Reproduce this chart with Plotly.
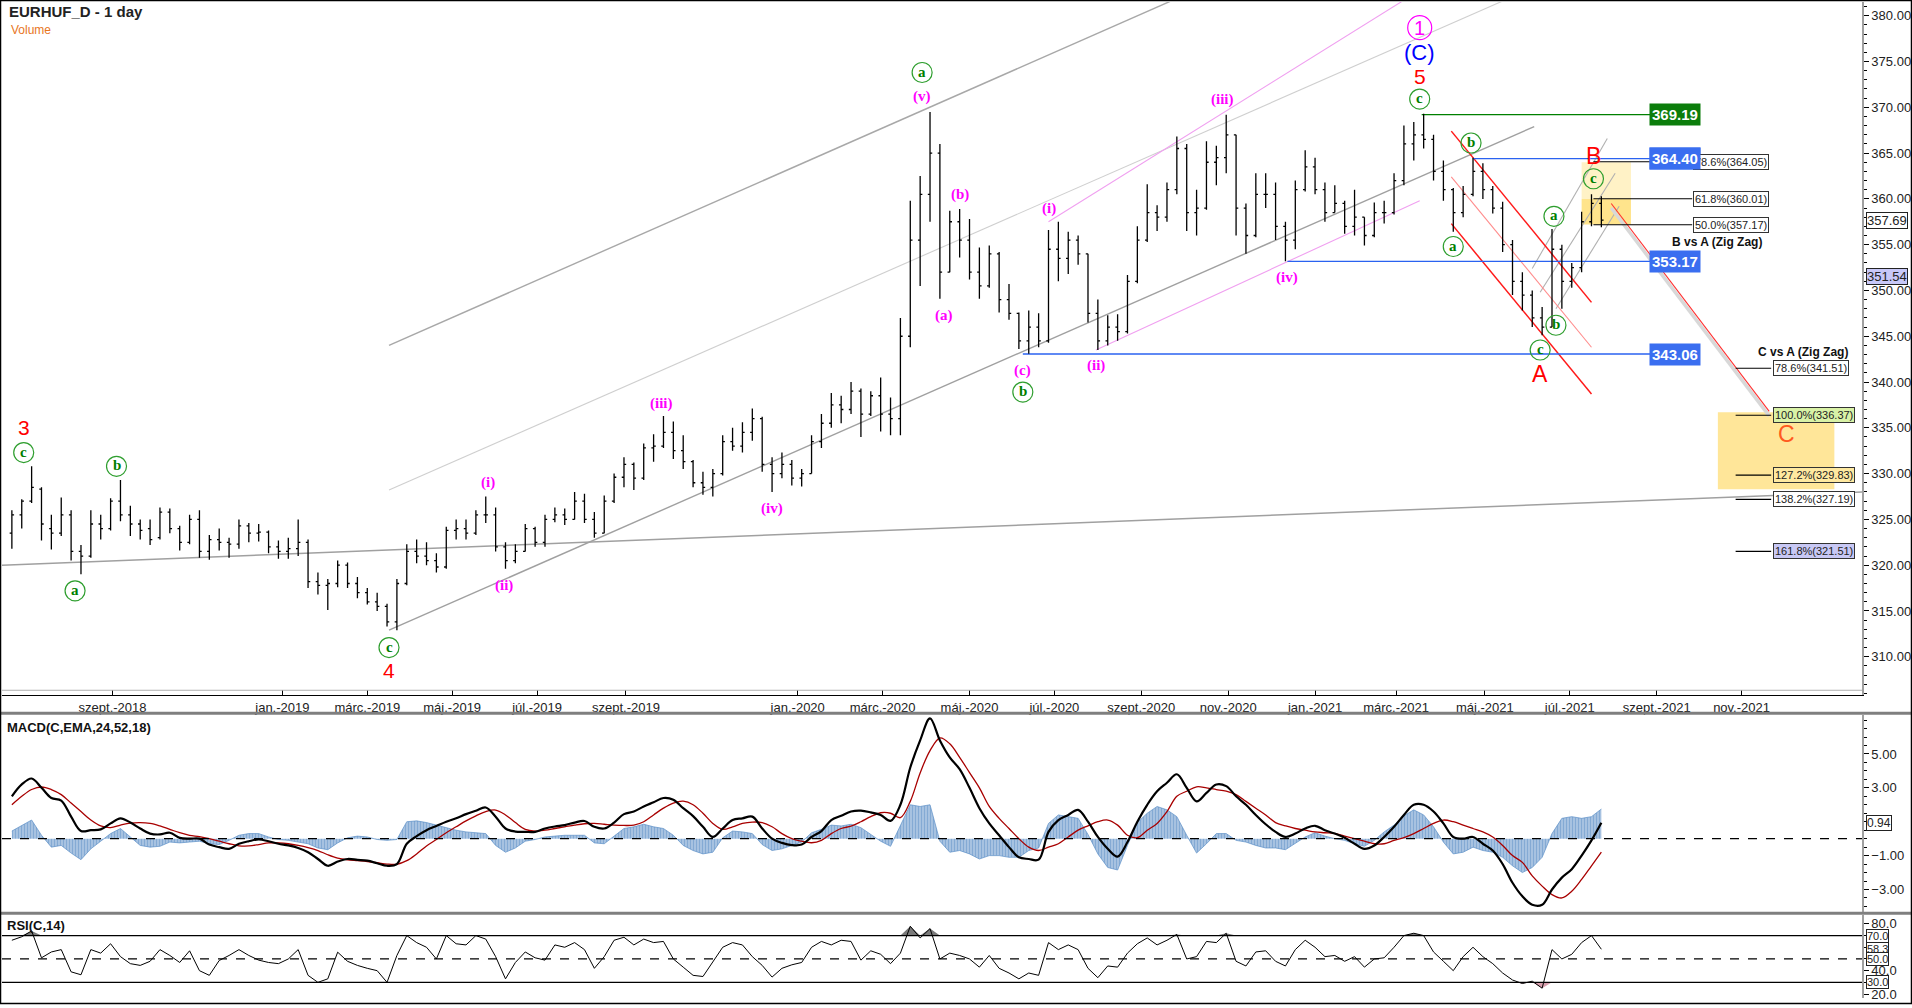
import numpy as np
import pandas as pd
import plotly.graph_objects as go

# weekly bars
weeks = pd.date_range("2018-06-22", "2021-07-23", freq="W-FRI")

bar_open = [
    323.5, 325.5, 327.0, 328.3, 324.0, 323.5, 325.5, 321.5, 321.0, 324.5,
    324.0, 327.0, 325.5, 324.5, 324.0, 323.0, 325.8, 324.0, 322.5, 325.0,
    321.5, 322.8, 322.5, 322.3, 324.3, 323.5, 323.6, 322.0, 321.5, 321.8,
    322.5, 318.2, 317.8, 318.0, 320.0, 318.0, 317.0, 316.0, 315.5, 313.8,
    318.0, 321.5, 321.0, 320.5, 319.8, 323.8, 324.0, 323.5, 325.5, 325.5,
    322.0, 320.5, 321.5, 324.0, 322.5, 325.0, 325.5, 325.0, 327.0, 325.0,
    323.5, 327.0, 329.6, 331.0, 329.5, 332.8, 333.0, 334.5, 332.5, 331.3,
    329.0, 328.5, 330.0, 333.5, 333.0, 334.5, 336.0, 331.0, 330.0, 331.0,
    329.5, 330.0, 333.5, 335.5, 337.5, 337.0, 339.0, 336.5, 338.5, 336.5,
    336.0, 345.0, 355.5, 360.5, 365.0, 352.0, 357.5, 355.5, 352.0, 350.5,
    354.0, 349.0, 347.5, 344.5, 346.0, 344.5, 354.5, 353.5, 355.5, 354.0,
    347.5, 344.5, 346.0, 345.5, 351.0, 355.5, 358.5, 358.0, 361.0, 365.5,
    358.5, 359.0, 364.0, 364.5, 367.0, 359.0, 356.0, 360.5, 360.5, 357.0,
    355.5, 361.0, 363.5, 361.0, 358.5, 359.5, 357.0, 358.0, 356.0, 358.5,
    358.5, 362.0, 366.0, 367.0, 366.5, 363.0, 361.0, 358.5, 360.5, 363.0,
    361.0, 359.0, 355.0, 351.0, 349.5, 347.0, 346.0, 354.5, 351.0, 352.5,
    357.5, 359.5,
]
bar_high = [
    326.0, 327.2, 330.8, 328.5, 325.5, 327.4, 326.0, 322.2, 326.0, 325.5,
    327.3, 329.3, 326.5, 325.0, 325.0, 326.3, 326.2, 324.3, 325.5, 326.0,
    323.3, 324.0, 323.0, 325.0, 324.6, 324.5, 323.8, 322.7, 323.0, 325.0,
    322.8, 319.2, 318.5, 320.5, 320.3, 318.7, 317.5, 317.0, 315.8, 318.5,
    322.3, 322.8, 322.5, 321.3, 324.2, 325.0, 325.0, 326.0, 327.5, 326.3,
    322.5, 322.3, 324.5, 324.2, 325.5, 326.3, 326.2, 328.0, 327.8, 325.8,
    327.6, 330.0, 331.8, 331.2, 333.3, 334.3, 336.3, 335.7, 334.2, 331.5,
    330.2, 330.5, 334.2, 335.0, 335.6, 337.1, 336.2, 331.8, 332.3, 331.5,
    330.5, 334.2, 336.5, 338.8, 338.5, 340.0, 339.3, 339.0, 340.5, 338.3,
    347.0, 359.8, 362.5, 369.5, 366.0, 358.7, 358.9, 357.8, 354.7, 354.9,
    354.2, 350.7, 347.6, 347.8, 347.5, 356.6, 357.5, 356.4, 356.0, 354.0,
    349.0, 347.3, 347.4, 351.7, 357.0, 361.6, 359.3, 361.8, 366.8, 366.0,
    361.0, 366.3, 365.8, 369.2, 367.0, 359.5, 362.8, 362.8, 361.8, 357.5,
    362.0, 365.3, 364.5, 361.8, 361.5, 359.8, 361.0, 358.0, 359.6, 359.8,
    362.8, 368.0, 368.4, 369.3, 367.0, 364.2, 361.2, 361.4, 364.5, 363.9,
    361.4, 359.7, 355.5, 352.0, 350.0, 348.2, 356.7, 355.0, 353.0, 358.6,
    360.5, 360.3,
]
bar_low = [
    321.8, 324.0, 326.8, 322.7, 321.7, 323.2, 320.5, 319.0, 320.8, 322.8,
    323.8, 324.8, 323.2, 322.8, 322.2, 322.8, 323.5, 321.6, 322.3, 320.8,
    320.6, 321.6, 320.8, 321.8, 322.5, 322.6, 321.3, 320.7, 320.7, 321.0,
    317.5, 316.8, 315.1, 317.6, 317.5, 316.4, 315.7, 315.0, 313.3, 312.9,
    317.8, 320.2, 320.0, 319.2, 319.6, 322.8, 322.8, 323.3, 324.6, 321.5,
    319.6, 320.2, 321.5, 322.0, 322.0, 324.7, 324.4, 325.0, 324.6, 323.0,
    323.5, 326.8, 328.5, 328.2, 329.3, 331.3, 332.8, 331.6, 330.5, 328.5,
    327.7, 327.5, 329.8, 332.5, 332.3, 333.6, 330.2, 328.0, 329.5, 328.7,
    328.6, 330.0, 332.8, 335.0, 335.5, 336.5, 334.0, 336.3, 334.6, 334.2,
    334.2, 343.8, 350.5, 357.5, 349.1, 352.0, 353.6, 351.2, 349.1, 350.3,
    347.6, 346.8, 343.6, 343.1, 343.8, 344.3, 351.0, 351.8, 352.8, 346.5,
    343.5, 344.0, 344.5, 345.3, 350.8, 355.3, 356.5, 357.5, 360.5, 356.5,
    356.0, 358.8, 361.5, 362.8, 356.0, 354.0, 355.8, 359.0, 355.5, 353.2,
    354.5, 360.8, 360.5, 357.5, 358.5, 356.2, 356.0, 354.9, 355.8, 357.3,
    358.3, 361.5, 364.2, 365.5, 362.0, 359.8, 356.4, 358.0, 360.3, 360.0,
    358.4, 354.2, 349.5, 347.8, 346.0, 345.1, 346.0, 348.0, 350.3, 352.0,
    357.0, 356.9,
]
bar_close = [
    325.5, 327.0, 328.5, 324.5, 323.5, 325.5, 321.5, 321.0, 324.5, 324.0,
    327.0, 325.5, 324.5, 323.8, 322.8, 325.8, 324.0, 322.5, 325.0, 321.5,
    322.8, 322.5, 322.3, 324.3, 323.5, 323.6, 322.0, 321.5, 321.8, 322.5,
    318.2, 317.8, 318.0, 320.0, 318.0, 317.0, 316.0, 315.5, 313.8, 318.0,
    321.5, 321.0, 320.5, 319.8, 323.8, 324.0, 323.5, 325.5, 325.5, 322.0,
    320.5, 321.5, 324.0, 322.5, 325.0, 325.5, 325.0, 327.0, 325.0, 323.5,
    327.0, 329.6, 331.0, 329.5, 332.8, 333.0, 334.5, 332.5, 331.3, 329.0,
    328.5, 330.0, 333.5, 333.0, 334.5, 336.0, 331.0, 330.0, 331.0, 329.5,
    330.0, 333.5, 335.5, 337.5, 337.0, 339.0, 336.5, 338.5, 336.5, 336.0,
    345.0, 355.5, 360.5, 365.0, 352.0, 357.5, 355.5, 352.0, 350.5, 354.0,
    349.0, 347.5, 344.5, 346.0, 344.5, 354.5, 353.5, 355.5, 354.0, 347.5,
    344.5, 346.0, 345.5, 351.0, 355.5, 358.5, 358.0, 361.0, 365.5, 358.5,
    359.0, 364.0, 364.5, 367.0, 359.0, 356.0, 360.5, 360.5, 357.0, 355.5,
    361.0, 363.5, 361.0, 358.5, 359.5, 357.0, 358.0, 356.0, 358.5, 358.5,
    362.0, 366.0, 367.0, 366.5, 363.0, 361.0, 358.5, 360.5, 363.0, 361.0,
    359.0, 355.0, 351.0, 349.5, 347.0, 346.0, 354.5, 351.0, 352.5, 357.5,
    359.5, 357.69,
]

macd_line = [
    2.5, 3.2, 3.55, 3.0, 2.4, 2.25, 1.3, 0.45, 0.5, 0.55,
    0.9, 1.2, 0.95, 0.6, 0.3, 0.25, 0.35, 0.05, 0.0, 0.0,
    -0.35, -0.5, -0.6, -0.3, -0.15, -0.05, -0.15, -0.3, -0.4, -0.55,
    -0.8, -1.2, -1.6, -1.35, -1.2, -1.25, -1.3, -1.45, -1.6, -1.5,
    -0.3, 0.15, 0.5, 0.75, 1.0, 1.2, 1.45, 1.65, 1.84, 1.3,
    0.6, 0.42, 0.4, 0.4, 0.6, 0.72, 0.8, 0.95, 1.04, 0.7,
    0.6, 0.95, 1.45, 1.6, 1.9, 2.15, 2.4, 2.3, 1.8, 1.33,
    0.7, 0.1, 0.6, 1.1, 1.2, 1.3, 0.6, 0.0, -0.25, -0.38,
    -0.35, 0.1, 0.45, 1.1, 1.35, 1.6, 1.65, 1.55, 1.4, 1.05,
    2.0, 4.2, 5.8, 7.1, 5.8, 4.8, 4.1, 3.0, 1.8, 0.9,
    0.2, -0.5, -1.1, -1.2, -1.24, 0.4, 1.1, 1.4, 1.7, 1.0,
    0.1, -0.6, -1.06, -0.2, 1.0, 2.0, 2.8, 3.3, 3.8, 3.0,
    2.2, 2.7, 3.2, 3.1, 2.5, 2.0, 1.4, 0.85, 0.4, 0.1,
    0.3, 0.6, 0.76, 0.5, 0.3, 0.05, -0.3, -0.6, -0.4, 0.1,
    0.7, 1.4, 2.0, 2.0, 1.6, 0.9, 0.1, 0.0, 0.1, -0.3,
    -0.7, -1.5, -2.6, -3.4, -3.9, -3.9, -3.0, -2.3, -1.8, -1.0,
    -0.1, 0.94,
]
macd_signal = [
    2.0, 2.5, 2.9, 3.05, 2.9, 2.6, 2.1, 1.6, 1.1, 0.75,
    0.65, 0.8, 0.92, 0.95, 0.9, 0.75, 0.55, 0.35, 0.2, 0.12,
    0.0, -0.15, -0.3, -0.42, -0.43, -0.35, -0.25, -0.25, -0.3, -0.4,
    -0.53, -0.7, -0.95, -1.15, -1.25, -1.3, -1.35, -1.42, -1.5, -1.51,
    -1.3, -0.9, -0.43, -0.05, 0.35, 0.7, 1.05, 1.35, 1.6, 1.69,
    1.4, 0.95, 0.55, 0.45, 0.5, 0.6, 0.7, 0.8, 0.88, 0.9,
    0.85, 0.8, 0.78, 0.8, 1.0, 1.4, 1.8, 2.1, 2.21, 2.0,
    1.5, 0.9, 0.55, 0.7, 0.9, 0.98, 0.95, 0.7, 0.3, 0.0,
    -0.15, -0.24, -0.1, 0.3, 0.6, 0.74, 1.0, 1.3, 1.53, 1.5,
    1.24, 2.2, 3.88, 5.2, 5.94, 5.6, 4.8, 3.9, 3.0, 1.9,
    1.2, 0.6, 0.0, -0.5, -0.7, -0.5, -0.3, 0.1, 0.5, 0.76,
    1.0, 1.1, 0.8, 0.2, 0.06, 0.5, 0.9, 1.6, 2.5, 2.8,
    3.06, 3.0, 2.9, 2.8, 2.6, 2.2, 1.8, 1.4, 0.95, 0.76,
    0.6, 0.5, 0.4, 0.35, 0.3, 0.15, 0.0, -0.15, -0.3, -0.3,
    -0.1, 0.06, 0.3, 0.6, 0.9, 1.1, 1.0, 0.8, 0.6, 0.4,
    0.1, -0.4, -1.0, -1.4, -2.2, -2.8, -3.3, -3.5, -3.1, -2.4,
    -1.6, -0.8,
]
macd_hist = [
    0.45, 0.8, 1.1, 0.2, -0.5, -0.4, -0.85, -1.24, -0.6, -0.15,
    0.3, 0.6, 0.1, -0.4, -0.5, -0.45, -0.2, -0.25, -0.2, -0.15,
    -0.3, -0.35, -0.1, 0.2, 0.3, 0.3, 0.1, -0.05, -0.1, -0.2,
    -0.3, -0.55, -0.65, -0.25, 0.05, 0.15, 0.1, -0.05, -0.1, -0.05,
    1.0, 1.05, 0.95, 0.8, 0.65, 0.5, 0.4, 0.35, 0.3, -0.4,
    -0.8, -0.55, -0.15, -0.05, 0.1, 0.15, 0.2, 0.2, 0.2, -0.25,
    -0.3, 0.15, 0.6, 0.7, 0.85, 0.7, 0.6, 0.2, -0.4, -0.7,
    -0.9, -0.8, 0.05, 0.45, 0.4, 0.3, -0.35, -0.7, -0.6, -0.4,
    -0.2, 0.35, 0.55, 0.8, 0.75, 0.85, 0.65, 0.25, -0.15, -0.45,
    0.75, 2.0, 1.9, 2.0, -0.15, -0.8, -0.7, -0.9, -1.2, -1.0,
    -1.0, -1.1, -1.1, -0.7, -0.55, 0.9, 1.4, 1.3, 1.2, 0.25,
    -0.9, -1.7, -1.85, -0.4, 0.95, 1.5, 1.9, 1.7, 1.3, 0.2,
    -0.85, -0.3, 0.3, 0.3, -0.1, -0.2, -0.4, -0.55, -0.55, -0.65,
    -0.3, 0.1, 0.35, 0.15, 0.0, -0.1, -0.3, -0.45, -0.1, 0.4,
    0.8, 1.35, 1.7, 1.4, 0.7, -0.2, -0.9, -0.8, -0.5, -0.7,
    -0.8, -1.1, -1.6, -2.0, -1.7, -1.1, 0.3, 1.2, 1.3, 1.2,
    1.3, 1.75,
]
rsi_line = [
    66, 69, 74, 51, 56, 58, 39, 36.5, 58, 55,
    63, 52, 46, 44.5, 48, 58, 53, 47, 57, 40,
    36, 48.7, 53, 58, 53, 49, 47, 46, 50, 58,
    36, 30, 33, 55.8, 48, 44.5, 42, 40, 30, 53,
    70, 64, 60, 50, 70, 63, 62, 70, 67, 52,
    33, 47, 56, 51, 49, 62, 60, 64, 58, 42,
    52, 66, 68.6, 62, 67, 64, 65, 50, 43, 36,
    35, 47, 60, 64, 62, 52, 44.5, 34.5, 42, 45,
    47, 60, 65, 62, 66, 65, 49, 57, 54, 46,
    55, 78, 68, 76, 50, 55, 53, 50, 43, 53,
    42, 38, 33, 38, 36, 64, 58, 62, 58, 42,
    34, 44, 43, 55, 63, 68, 62, 66, 71, 50,
    52, 65, 64, 72, 48, 44, 56, 57, 48, 44,
    58, 66, 60, 52, 53, 48, 52, 43, 50, 51,
    60, 70, 72, 70, 56, 48, 40, 52, 60, 52,
    46, 38, 32, 29, 31, 25, 58, 50, 54, 64,
    70, 58.3,
]

month_ticks = ["2018-09-03", "2019-01-01", "2019-03-01", "2019-05-01", "2019-07-01",
               "2019-09-02", "2020-01-01", "2020-03-02", "2020-05-01", "2020-07-01",
               "2020-09-01", "2020-11-02", "2021-01-01", "2021-03-01", "2021-05-03",
               "2021-07-01", "2021-09-01", "2021-11-01"]
month_labels = ["szept.-2018", "jan.-2019", "márc.-2019", "máj.-2019", "júl.-2019",
                "szept.-2019", "jan.-2020", "márc.-2020", "máj.-2020", "júl.-2020",
                "szept.-2020", "nov.-2020", "jan.-2021", "márc.-2021", "máj.-2021",
                "júl.-2021", "szept.-2021", "nov.-2021"]

W, H = 1912, 1008
ML, MR = 2, 50


def px_x(px):
    return (px - ML) / (W - ML - MR)


def px_y(py):
    return 1 - py / H


fig = go.Figure()

fig.add_trace(go.Ohlc(
    x=weeks, open=bar_open, high=bar_high, low=bar_low, close=bar_close,
    increasing=dict(line=dict(color="black", width=1.3)),
    decreasing=dict(line=dict(color="black", width=1.3)),
    tickwidth=0.16, xaxis="x", yaxis="y", showlegend=False, hoverinfo="skip"))

# MACD panel
fig.add_trace(go.Scatter(
    x=weeks, y=macd_hist, mode="lines", fill="tozeroy",
    line=dict(color="#5b8fc7", width=0.7),
    fillcolor="rgba(110,155,205,0.45)",
    fillpattern=dict(shape="|", fgcolor="#4a82c0", size=3, solidity=0.6),
    xaxis="x", yaxis="y2", showlegend=False, hoverinfo="skip"))
fig.add_trace(go.Scatter(x=weeks, y=macd_signal, mode="lines", line=dict(color="#a80000", width=1.3, shape="spline"),
                         xaxis="x", yaxis="y2", showlegend=False, hoverinfo="skip"))
fig.add_trace(go.Scatter(x=weeks, y=macd_line, mode="lines", line=dict(color="black", width=2.2, shape="spline"),
                         xaxis="x", yaxis="y2", showlegend=False, hoverinfo="skip"))

# RSI panel with shading outside 70/30
rsi = np.array(rsi_line, dtype=float)
fig.add_trace(go.Scatter(x=weeks, y=[70] * len(weeks), mode="lines", line=dict(width=0),
                         xaxis="x", yaxis="y3", showlegend=False, hoverinfo="skip"))
fig.add_trace(go.Scatter(x=weeks, y=np.maximum(rsi, 70), mode="lines", line=dict(width=0),
                         fill="tonexty", fillcolor="#7a7a7a", xaxis="x", yaxis="y3",
                         showlegend=False, hoverinfo="skip"))
fig.add_trace(go.Scatter(x=weeks, y=[30] * len(weeks), mode="lines", line=dict(width=0),
                         xaxis="x", yaxis="y3", showlegend=False, hoverinfo="skip"))
fig.add_trace(go.Scatter(x=weeks, y=np.minimum(rsi, 30), mode="lines", line=dict(width=0),
                         fill="tonexty", fillcolor="#d9a0ae", xaxis="x", yaxis="y3",
                         showlegend=False, hoverinfo="skip"))
fig.add_trace(go.Scatter(x=weeks, y=rsi_line, mode="lines", line=dict(color="black", width=1),
                         xaxis="x", yaxis="y3", showlegend=False, hoverinfo="skip"))

shapes = []


def seg(x0, y0, x1, y1, color, width=1.0, dash="solid", yref="y"):
    shapes.append(dict(type="line", xref="x", yref=yref, x0=x0, y0=y0, x1=x1, y1=y1,
                       line=dict(color=color, width=width, dash=dash), layer="below"))


def box(x0, y0, x1, y1, color):
    shapes.append(dict(type="rect", xref="x", yref="y", x0=x0, y0=y0, x1=x1, y1=y1,
                       fillcolor=color, line=dict(width=0), layer="below"))


# yellow target zones
box("2021-07-09", 360.0, "2021-08-13", 364.0, "#fff2c6")
box("2021-07-09", 357.2, "2021-08-13", 360.0, "#ffe48c")
box("2021-10-14", 328.3, "2022-01-05", 336.7, "#ffe699")

# channel lines
seg("2018-06-15", 320.0, "2022-01-25", 328.0, "#a0a0a0", 1.5)
seg("2019-03-18", 312.9, "2021-06-07", 367.9, "#a0a0a0", 1.4)
seg("2019-03-18", 344.0, "2020-09-23", 381.7, "#a8a8a8", 1.4)
seg("2019-03-18", 328.2, "2021-05-17", 381.7, "#cfcfcf", 1.1)
seg("2020-06-26", 357.5, "2021-03-05", 381.7, "#f0a0f0", 1.1)
seg("2020-07-30", 343.5, "2021-03-17", 359.8, "#f0a0f0", 1.1)
seg("2021-06-04", 352.4, "2021-07-28", 366.6, "#b0b0b0", 1.1)
seg("2021-06-10", 349.8, "2021-08-03", 362.8, "#b0b0b0", 1.1)
seg("2021-06-22", 348.0, "2021-08-05", 359.2, "#b0b0b0", 1.1)
seg("2021-04-08", 367.4, "2021-07-16", 348.7, "#ff1a1a", 1.5)
seg("2021-04-08", 362.4, "2021-07-16", 343.8, "#ff8c8c", 1.1)
seg("2021-04-08", 357.3, "2021-07-16", 338.7, "#ff1a1a", 1.5)
seg("2021-07-30", 359.0, "2021-11-19", 336.3, "#d8d8d8", 3.5)
seg("2021-07-30", 359.5, "2021-11-19", 336.8, "#ff3030", 1.1)

# horizontal levels
seg("2021-03-18", 369.19, "2021-08-27", 369.19, "#008000", 1.3)
seg("2021-04-23", 364.40, "2021-08-27", 364.40, "#2a62f0", 1.3)
seg("2020-12-14", 353.17, "2021-08-27", 353.17, "#2a62f0", 1.3)
seg("2020-06-09", 343.06, "2021-08-27", 343.06, "#2a62f0", 1.3)
for lvl in [364.05, 360.01, 357.17]:
    seg("2021-07-19", lvl, "2021-09-27", lvl, "black", 1.1)
for lvl in [341.51, 336.37, 329.83, 327.19, 321.51]:
    seg("2021-10-27", lvl, "2021-11-22", lvl, "black", 1.1)

# indicator reference lines
shapes.append(dict(type="line", xref="paper", yref="y2", x0=0, x1=1, y0=0, y1=0,
                   line=dict(color="black", width=1.2, dash="dash")))
for lvl, dash in [(70, "solid"), (50, "dash"), (30, "solid")]:
    shapes.append(dict(type="line", xref="paper", yref="y3", x0=0, x1=1, y0=lvl, y1=lvl,
                       line=dict(color="black", width=1.3, dash=dash)))

# panel separators and frame
shapes.append(dict(type="line", xref="paper", yref="paper", x0=0, x1=1, y0=px_y(693), y1=px_y(693),
                   line=dict(color="#b0b0b0", width=1)))
for py in [716, 917]:
    shapes.append(dict(type="line", xref="paper", yref="paper", x0=px_x(0), x1=px_x(W), y0=px_y(py), y1=px_y(py),
                       line=dict(color="#7f7f7f", width=3)))
shapes.append(dict(type="rect", xref="paper", yref="paper", x0=px_x(0.5), x1=px_x(W - 0.5),
                   y0=px_y(H - 0.5), y1=px_y(0.5), line=dict(color="black", width=1.5)))

annotations = []

# wave labels
green_circled = [
    ("2018-07-02", 332.3, "c"), ("2018-08-07", 317.2, "a"), ("2018-09-05", 330.8, "b"),
    ("2019-03-18", 311.0, "c"), ("2020-03-30", 373.8, "a"), ("2020-06-09", 338.9, "b"),
    ("2021-03-17", 370.9, "c"), ("2021-04-22", 366.1, "b"), ("2021-04-09", 354.8, "a"),
    ("2021-06-21", 358.1, "a"), ("2021-06-10", 343.5, "c"), ("2021-06-22", 346.2, "b"),
    ("2021-07-19", 362.2, "c"),
]
magenta_labels = [
    ("2019-05-27", 329.0, "(i)"), ("2019-06-06", 317.8, "(ii)"), ("2019-09-26", 337.7, "(iii)"),
    ("2019-12-13", 326.2, "(iv)"), ("2020-03-30", 371.2, "(v)"), ("2020-04-14", 347.3, "(a)"),
    ("2020-04-24", 360.5, "(b)"), ("2020-06-09", 341.3, "(c)"), ("2020-06-26", 359.0, "(i)"),
    ("2020-07-30", 341.8, "(ii)"), ("2020-10-28", 370.9, "(iii)"), ("2020-12-14", 351.4, "(iv)"),
]
red_labels = [
    ("2018-07-02", 335.0, "3", 21), ("2019-03-18", 308.5, "4", 21), ("2021-03-17", 373.4, "5", 21),
    ("2021-06-10", 340.9, "A", 23), ("2021-07-19", 364.7, "B", 23),
]

for x, y, t in green_circled:
    shapes.append(dict(type="circle", xref="x", yref="y", xsizemode="pixel", ysizemode="pixel",
                       xanchor=x, yanchor=y, x0=-10, x1=10, y0=-10, y1=10,
                       line=dict(color="#2e9e2e", width=1.2)))
    annotations.append(dict(x=x, y=y, xref="x", yref="y", text="<b>%s</b>" % t, showarrow=False,
                            xanchor="center", yanchor="middle",
                            font=dict(family="Liberation Serif", size=15, color="#008000"), yshift=1))
for x, y, t in magenta_labels:
    annotations.append(dict(x=x, y=y, xref="x", yref="y", text="<b>%s</b>" % t, showarrow=False,
                            xanchor="center", yanchor="middle",
                            font=dict(family="Liberation Serif", size=15, color="#ff00ff")))
for x, y, t, s in red_labels:
    annotations.append(dict(x=x, y=y, xref="x", yref="y", text=t, showarrow=False,
                            xanchor="center", yanchor="middle",
                            font=dict(family="Liberation Sans", size=s, color="#ff0000")))
annotations.append(dict(x="2021-12-02", y=334.3, xref="x", yref="y", text="C", showarrow=False,
                        xanchor="center", yanchor="middle",
                        font=dict(family="Liberation Sans", size=23, color="#ff5a1e")))
annotations.append(dict(x="2021-03-17", y=376.0, xref="x", yref="y", text="(C)", showarrow=False,
                        xanchor="center", yanchor="middle",
                        font=dict(family="Liberation Sans", size=22, color="#0000ff")))
shapes.append(dict(type="circle", xref="x", yref="y", xsizemode="pixel", ysizemode="pixel",
                   xanchor="2021-03-17", yanchor=378.7, x0=-12, x1=12, y0=-12, y1=12,
                   line=dict(color="#ff00ff", width=1.2)))
annotations.append(dict(x="2021-03-17", y=378.7, xref="x", yref="y", text="1", showarrow=False,
                        xanchor="center", yanchor="middle",
                        font=dict(family="Liberation Sans", size=20, color="#ff00ff")))

# price level tags
for lvl, col in [(369.19, "#0b7d0b"), (364.40, "#3a6ef0"), (353.17, "#3a6ef0"), (343.06, "#3a6ef0")]:
    annotations.append(dict(x=px_x(1675), y=lvl, xref="paper", yref="y", text="<b>%.2f</b>" % lvl,
                            showarrow=False, xanchor="center", yanchor="middle", bgcolor=col, borderpad=2,
                            font=dict(family="Liberation Sans", size=15, color="white")))

fib_tags = [
    (364.05, "78.6%(364.05)", "white", px_x(1693)),
    (360.01, "61.8%(360.01)", "white", px_x(1693)),
    (357.17, "50.0%(357.17)", "white", px_x(1693)),
    (341.51, "78.6%(341.51)", "white", px_x(1773)),
    (336.37, "100.0%(336.37)", "#d9f2a6", px_x(1773)),
    (329.83, "127.2%(329.83)", "#ffe9a0", px_x(1773)),
    (327.19, "138.2%(327.19)", "white", px_x(1773)),
    (321.51, "161.8%(321.51)", "#c8c8f5", px_x(1773)),
]
for lvl, txt, bg, xp in fib_tags:
    annotations.append(dict(x=xp, y=lvl, xref="paper", yref="y", text=txt, showarrow=False,
                            xanchor="left", yanchor="middle", bgcolor=bg, bordercolor="#333",
                            borderwidth=1, borderpad=1,
                            font=dict(family="Liberation Sans", size=11, color="#222")))
# blue tag must sit above the 78.6% fib tag
annotations.append(dict(x=px_x(1675), y=364.40, xref="paper", yref="y", text="<b>364.40</b>",
                        showarrow=False, xanchor="center", yanchor="middle", bgcolor="#3a6ef0", borderpad=2,
                        font=dict(family="Liberation Sans", size=15, color="white")))
annotations.append(dict(x=px_x(1764), y=355.3, xref="paper", yref="y", text="<b>B vs A (Zig Zag)</b>",
                        showarrow=False, xanchor="right", yanchor="middle",
                        font=dict(family="Liberation Sans", size=12, color="#111")))
annotations.append(dict(x=px_x(1850), y=343.3, xref="paper", yref="y", text="<b>C vs A (Zig Zag)</b>",
                        showarrow=False, xanchor="right", yanchor="middle",
                        font=dict(family="Liberation Sans", size=12, color="#111")))

# axis value tags on the right
axis_tags = [
    ("y", 357.69, "357.69", "white", 13),
    ("y", 351.54, "351.54", "#c8c8f8", 13),
    ("y2", 0.94, "0.94", "white", 12),
    ("y3", 70.0, "70.0", "white", 11),
    ("y3", 58.3, "58.3", "white", 11),
    ("y3", 50.0, "50.0", "white", 11),
    ("y3", 30.0, "30.0", "white", 11),
]
for yref, val, txt, bg, fs in axis_tags:
    annotations.append(dict(x=1.0, y=val, xref="paper", yref=yref, text=txt, showarrow=False,
                            xanchor="left", yanchor="middle", xshift=4, bgcolor=bg, bordercolor="#222",
                            borderwidth=1, borderpad=0,
                            font=dict(family="Liberation Sans", size=fs, color="#222")))

# titles
title_items = [
    (7, 12, "<b>EURHUF_D - 1 day</b>", 15, "#222", "Liberation Sans"),
    (9, 30, "Volume", 12, "#e8761e", "Liberation Sans"),
    (5, 730, "<b>MACD(C,EMA,24,52,18)</b>", 13, "#111", "Liberation Sans Narrow, Liberation Sans"),
    (5, 929, "<b>RSI(C,14)</b>", 13, "#111", "Liberation Sans Narrow, Liberation Sans"),
]
for x, y, txt, fs, col, fam in title_items:
    annotations.append(dict(x=px_x(x), y=px_y(y), xref="paper", yref="paper", text=txt,
                            showarrow=False, xanchor="left", yanchor="middle",
                            font=dict(family=fam, size=fs, color=col)))

tick_font = dict(family="Liberation Sans", size=13, color="#222")
yax_common = dict(side="right", anchor="x", showgrid=False, zeroline=False, showline=True,
                  linecolor="#a0a0a0", linewidth=1.5, ticks="outside", ticklen=5, tickcolor="black",
                  tickfont=tick_font, fixedrange=True)

fig.update_layout(
    width=W, height=H, autosize=False,
    margin=dict(l=ML, r=MR, t=0, b=0),
    paper_bgcolor="white", plot_bgcolor="white",
    showlegend=False,
    xaxis=dict(type="date", domain=[0, 1], anchor="y", range=["2018-06-15", "2022-01-25"],
               rangebreaks=[dict(bounds=["sat", "mon"])],
               rangeslider=dict(visible=False),
               tickvals=month_ticks, ticktext=month_labels, ticks="inside", ticklen=5,
               tickcolor="black", showline=True, linecolor="black", linewidth=1,
               showgrid=False, zeroline=False, tickfont=tick_font),
    yaxis=dict(domain=[px_y(698), px_y(2)], range=[305.8, 381.5], dtick=5, tick0=0,
               tickformat=".2f", minor=dict(dtick=1, ticklen=3, ticks="outside", tickcolor="black"),
               **yax_common),
    yaxis2=dict(domain=[px_y(916), px_y(718)], range=[-4.35, 7.29], tickvals=[-3, -1, 3, 5],
                tickformat=".2f", minor=dict(dtick=0.5, ticklen=3, ticks="outside", tickcolor="black"),
                **yax_common),
    yaxis3=dict(domain=[px_y(1002), px_y(919)], range=[16.6, 87.3], tickvals=[20, 40, 80],
                tickformat=".1f", minor=dict(dtick=10, ticklen=3, ticks="outside", tickcolor="black"),
                **yax_common),
    shapes=shapes,
    annotations=annotations,
)

fig.write_html("out.html", config={"displayModeBar": False},
               post_script="document.body.style.margin='0px';document.body.style.overflow='hidden';")
